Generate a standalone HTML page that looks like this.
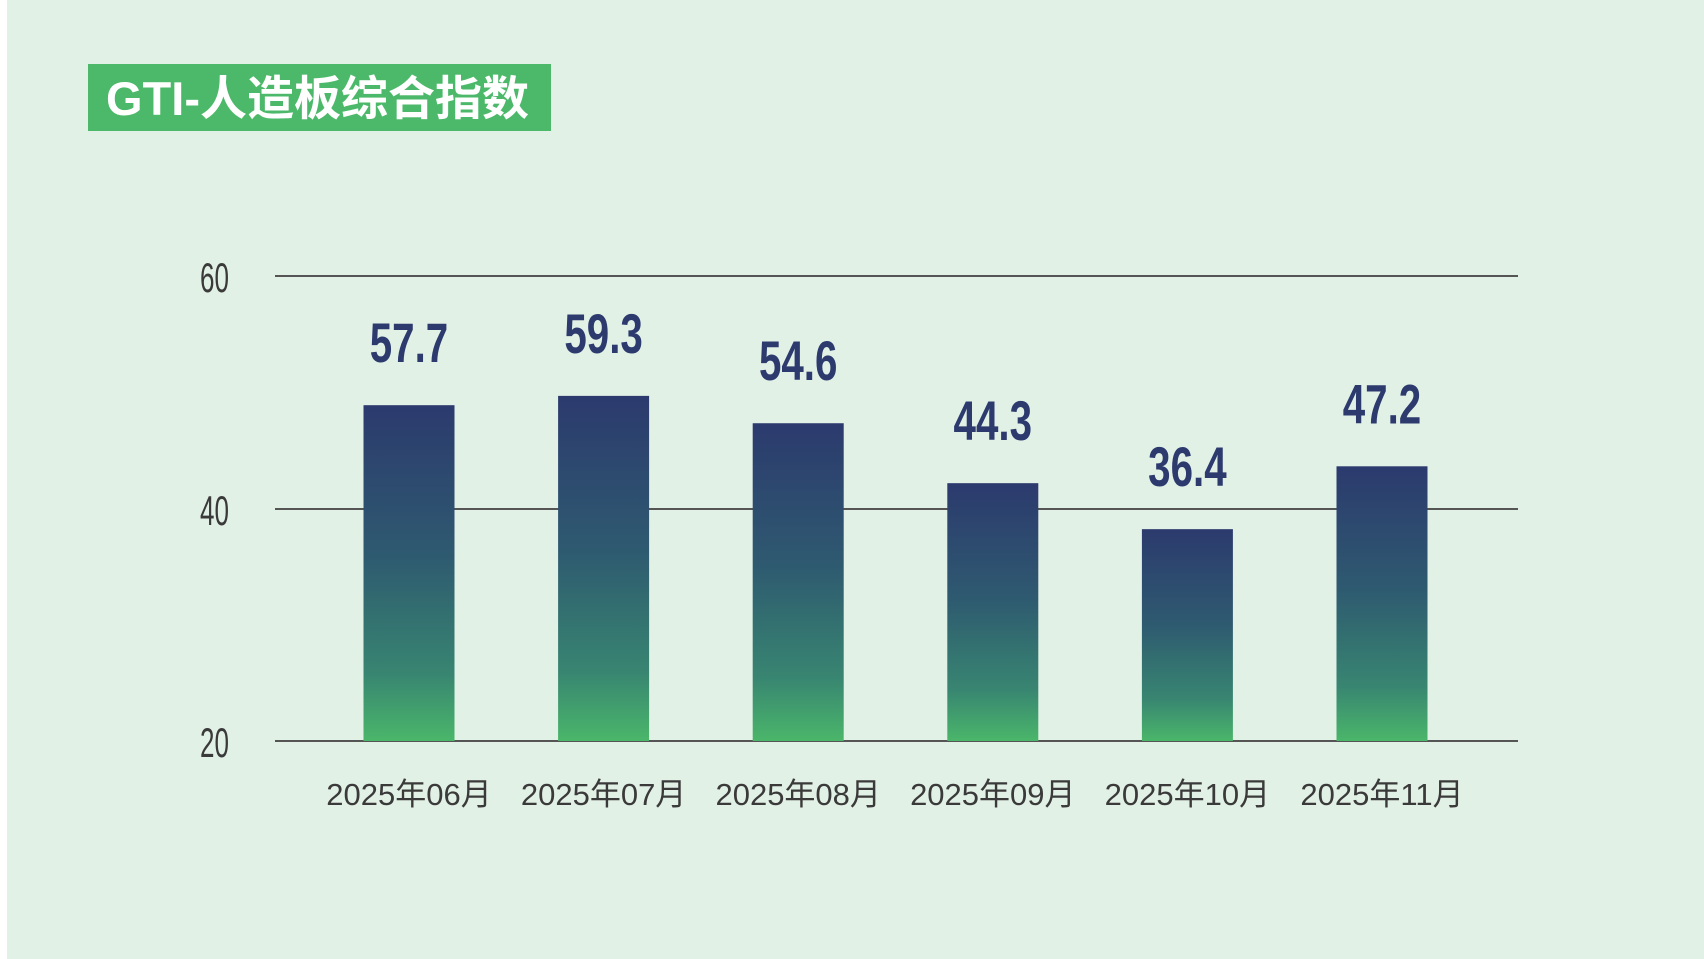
<!DOCTYPE html>
<html><head><meta charset="utf-8"><style>
html,body{margin:0;padding:0;background:#fff;}
svg{display:block;}
</style></head><body>
<svg width="1704" height="959" viewBox="0 0 1704 959" xmlns="http://www.w3.org/2000/svg">
<defs><linearGradient id="g" x1="0" y1="0" x2="0" y2="1">
<stop offset="0" stop-color="#2c3a6e"/><stop offset="0.45" stop-color="#2e5a70"/><stop offset="0.8" stop-color="#388571"/><stop offset="1" stop-color="#4ab66a"/></linearGradient></defs>
<rect x="7" y="0" width="1697" height="959" fill="#e2f1e6"/>
<rect x="88" y="64" width="463" height="67" fill="#4cb96a"/>
<text x="106" y="115" font-family="Liberation Sans, Noto Sans CJK SC, sans-serif" font-weight="bold" font-size="47" fill="#fff">GTI-人造板综合指数</text>
<g id="grid"></g><g id="bars"></g>
</svg>
<script>
const categories=["2025年06月","2025年07月","2025年08月","2025年09月","2025年10月","2025年11月"];
const values=[57.7,59.3,54.6,44.3,36.4,47.2];
const tickLabels=["20","40","60"];
const ns="http://www.w3.org/2000/svg";
const base=741,k=5.82,x0=409,step=194.6,bw=91;
const tickY=[741,509,276];
const grid=document.getElementById('grid'),bars=document.getElementById('bars');
function mk(t,a,p){const e=document.createElementNS(ns,t);for(const n in a)e.setAttribute(n,a[n]);p.appendChild(e);return e;}
tickLabels.forEach((t,i)=>{
 const l=mk('line',{x1:275,x2:1518,y1:tickY[i],y2:tickY[i],stroke:'#555',"stroke-width":2},grid);
 
 
 const tx=mk('text',{x:229,y:tickY[i]+16,"text-anchor":"end","font-family":"Liberation Sans Narrow, Liberation Sans, sans-serif","font-size":42,fill:"#3a3a3a",transform:`translate(229 0) scale(0.62 1) translate(-229 0)`},grid);
 tx.textContent=t;
 
 
});
categories.forEach((c,i)=>{
 const cx=x0+i*step,h=values[i]*k,top=base-h;
 const r=mk('rect',{x:cx-bw/2,y:top,width:bw,height:h,fill:'url(#g)'},bars);
 
 
 const v=mk('text',{x:cx,y:top-43,"text-anchor":"middle","font-family":"Liberation Sans Narrow, Liberation Sans, sans-serif","font-weight":"bold","font-size":56,fill:"#2c3a6e",transform:`translate(${cx} 0) scale(0.72 1) translate(${-cx} 0)`},bars);
 v.textContent=values[i].toFixed(1);
 
 
 const x=mk('text',{x:cx,y:805,"text-anchor":"middle","font-family":"Liberation Sans, Noto Sans CJK SC, sans-serif","font-size":31,fill:"#3a3a3a"},bars);
 x.textContent=c;
 
 
});
</script>
</body></html>
